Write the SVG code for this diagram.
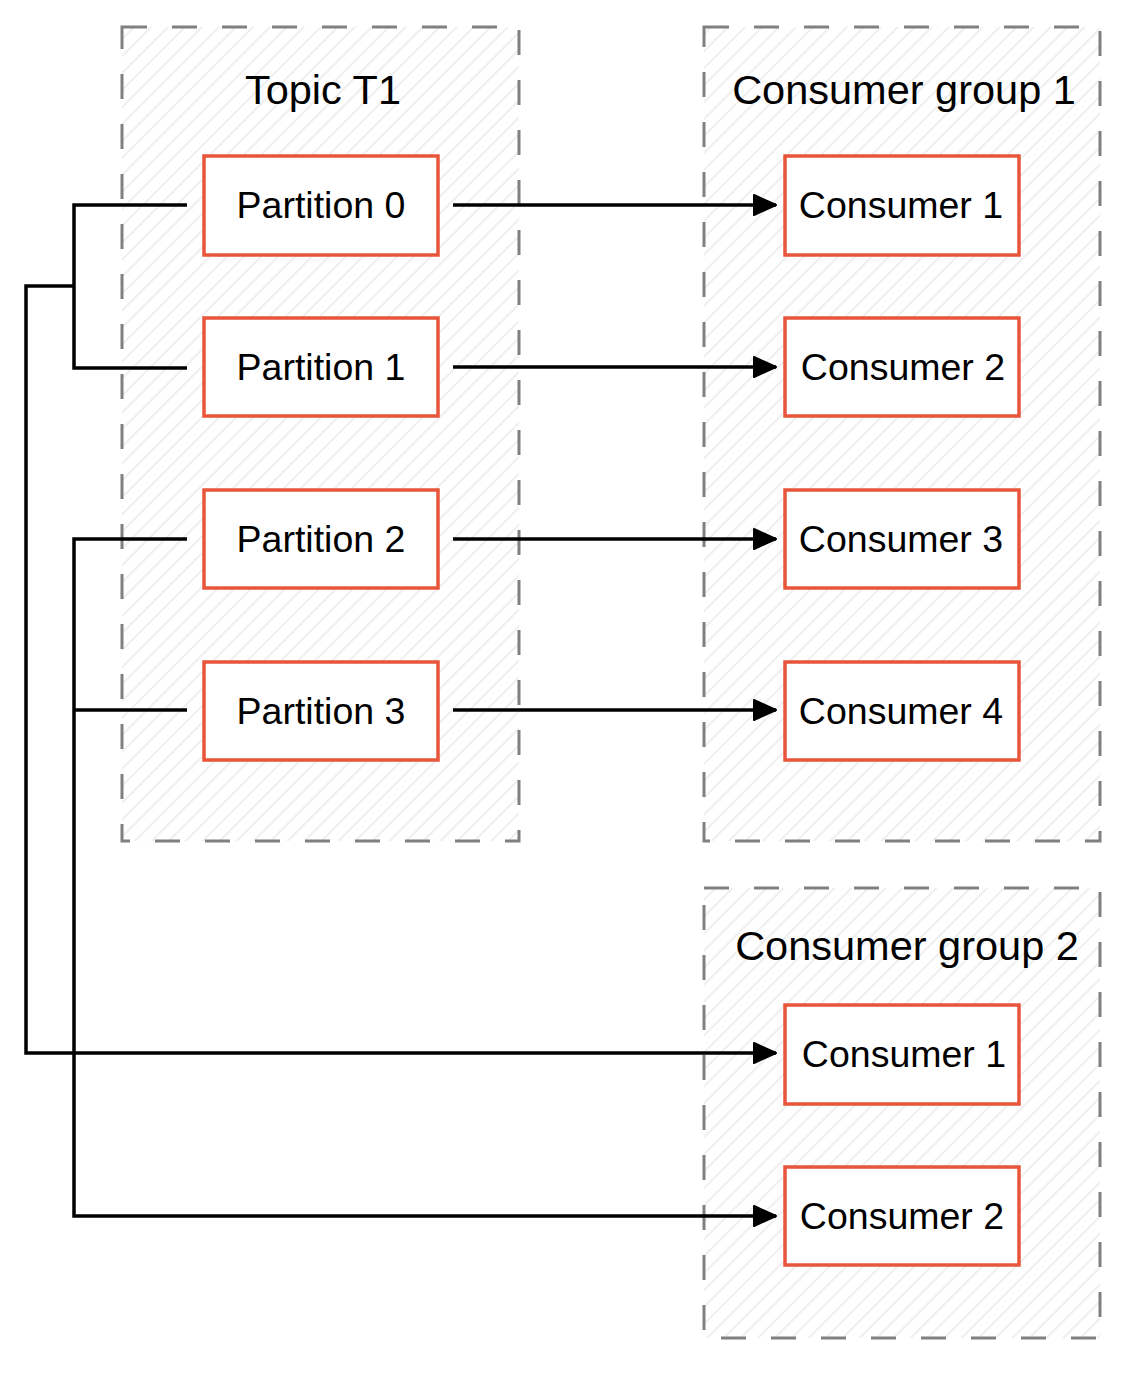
<svg xmlns="http://www.w3.org/2000/svg" width="1126" height="1373" viewBox="0 0 1126 1373">
<style>
.grp{fill:url(#hatch);stroke:#808080;stroke-width:3;stroke-dasharray:25 25}
.node rect{fill:#fff;stroke:#e8553a;stroke-width:3.5}
text{font-family:"Liberation Sans",Arial,sans-serif;fill:#000;text-anchor:middle}
.title{font-size:41.5px}
.lbl{font-size:37.5px}
.conn path{fill:none;stroke:#000;stroke-width:3.5}
</style>
<defs>
<pattern id="hatch" patternUnits="userSpaceOnUse" width="12" height="12" patternTransform="rotate(45)">
<rect width="12" height="12" fill="#fff"/>
<line x1="6" y1="0" x2="6" y2="12" stroke="#ebebeb" stroke-width="1.6"/>
</pattern>
<marker id="arr" markerUnits="userSpaceOnUse" markerWidth="26" markerHeight="24" refX="24" refY="12" orient="auto">
<path d="M2,2 L24,12 L2,22 Z" fill="#000" stroke="#000" stroke-width="2" stroke-linejoin="round"/>
</marker>
</defs>
<rect width="1126" height="1373" fill="#fff"/>
<g id="topic">
<rect class="grp" x="122" y="27" width="397" height="814"/>
<text class="title" x="323" y="104">Topic T1</text>
</g>
<g id="group1">
<rect class="grp" x="704" y="27" width="396" height="814"/>
<text class="title" x="904" y="104">Consumer group 1</text>
</g>
<g id="group2">
<rect class="grp" x="704" y="888" width="396" height="450"/>
<text class="title" x="907" y="960">Consumer group 2</text>
</g>
<g id="p0" class="node"><rect x="204" y="156" width="234" height="99"/><text class="lbl" x="321" y="218">Partition 0</text></g>
<g id="p1" class="node"><rect x="204" y="318" width="234" height="98"/><text class="lbl" x="321" y="380">Partition 1</text></g>
<g id="p2" class="node"><rect x="204" y="490" width="234" height="98"/><text class="lbl" x="321" y="552">Partition 2</text></g>
<g id="p3" class="node"><rect x="204" y="662" width="234" height="98"/><text class="lbl" x="321" y="724">Partition 3</text></g>
<g id="g1c1" class="node"><rect x="785" y="156" width="234" height="99"/><text class="lbl" x="901" y="218">Consumer 1</text></g>
<g id="g1c2" class="node"><rect x="785" y="318" width="234" height="98"/><text class="lbl" x="903" y="380">Consumer 2</text></g>
<g id="g1c3" class="node"><rect x="785" y="490" width="234" height="98"/><text class="lbl" x="901" y="552">Consumer 3</text></g>
<g id="g1c4" class="node"><rect x="785" y="662" width="234" height="98"/><text class="lbl" x="901" y="724">Consumer 4</text></g>
<g id="g2c1" class="node"><rect x="785" y="1005" width="234" height="99"/><text class="lbl" x="904" y="1067">Consumer 1</text></g>
<g id="g2c2" class="node"><rect x="785" y="1167" width="234" height="98"/><text class="lbl" x="902" y="1229">Consumer 2</text></g>
<g id="connectors" class="conn">
<path d="M453,205 H776" marker-end="url(#arr)"/>
<path d="M453,367 H776" marker-end="url(#arr)"/>
<path d="M453,539 H776" marker-end="url(#arr)"/>
<path d="M453,710 H776" marker-end="url(#arr)"/>
<path d="M187,205 H74 V368 H187"/>
<path d="M74,286 H26 V1053 H776" marker-end="url(#arr)"/>
<path d="M187,539 H74 V1216 H776" marker-end="url(#arr)"/>
<path d="M74,710 H187"/>
</g>
</svg>
